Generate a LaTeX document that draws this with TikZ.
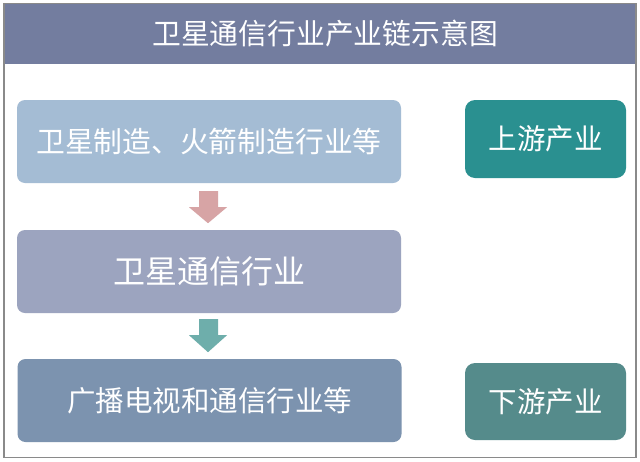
\documentclass[tikz,border=0pt]{standalone}
\usepackage{fontspec}
\newfontfamily\cjk{Noto Sans CJK SC}
\usetikzlibrary{calc}
\definecolor{frameC}{HTML}{8A8A8A}
\definecolor{headC}{HTML}{737D9F}
\definecolor{boxA}{HTML}{A4BCD4}
\definecolor{boxB}{HTML}{9CA4BF}
\definecolor{boxC}{HTML}{7C93AF}
\definecolor{upC}{HTML}{2A9090}
\definecolor{downC}{HTML}{558B8B}
\definecolor{arrA}{HTML}{D7A4A5}
\definecolor{arrB}{HTML}{6EAEAB}
\tikzset{
  chainbox/.style={rounded corners=8pt, inner sep=0pt, text=white, font=\cjk\fontsize{28.8}{32}\selectfont, minimum width=384pt, minimum height=83pt},
  sidebox/.style={rounded corners=10pt, inner sep=0pt, text=white, font=\cjk\fontsize{28.5}{32}\selectfont, minimum width=161pt, minimum height=78pt},
}
\begin{document}
\begin{tikzpicture}[x=1pt,y=-1pt]
\useasboundingbox (0,0) rectangle (640,461);
\fill[white] (0,0) rectangle (640,461);
% header band
\fill[headC] (4,4) rectangle (636,64);
\draw[frameC, line width=1.2pt] (4,3.5) rectangle (636,457.5);
\node[text=white, font=\cjk\fontsize{28.8}{32}\selectfont] (title) at (325,34) {卫星通信行业产业链示意图};
% chain boxes
\node[chainbox, fill=boxA] (b1) at (209,141.5) {卫星制造、火箭制造行业等};
\node[chainbox, fill=boxB, font=\cjk\fontsize{32}{35}\selectfont] (b2) at (209,271.5) {卫星通信行业};
\node[chainbox, fill=boxC, font=\cjk\fontsize{28.5}{32}\selectfont] (b3) at (209.5,400.5) {广播电视和通信行业等};
% side boxes
\node[sidebox, fill=upC] (up) at (545.5,139) {上游产业};
\node[sidebox, fill=downC, minimum height=77pt] (down) at (545.5,401.5) {下游产业};
% block arrows
\fill[arrA] ($(b1.south)+(-10,8)$) -- ($(b1.south)+(9,8)$) -- ($(b1.south)+(9,24)$) -- ($(b1.south)+(18,24)$)
  -- ($(b1.south)+(-1,40)$) -- ($(b1.south)+(-20,24)$) -- ($(b1.south)+(-10,24)$) -- cycle;
\fill[arrB] ($(b2.south)+(-10,6)$) -- ($(b2.south)+(9,6)$) -- ($(b2.south)+(9,22)$) -- ($(b2.south)+(18,22)$)
  -- ($(b2.south)+(-1,39)$) -- ($(b2.south)+(-20,22)$) -- ($(b2.south)+(-10,22)$) -- cycle;
\end{tikzpicture}
\end{document}
